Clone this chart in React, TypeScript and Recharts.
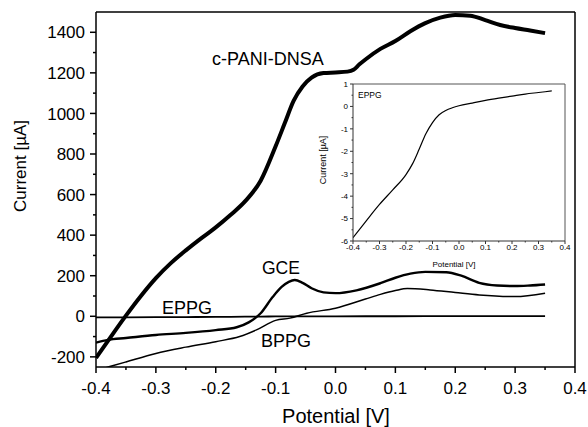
import React from 'react';
import { LineChart, Line, XAxis, YAxis, ReferenceLine } from 'recharts';

const FONT = '"Liberation Sans", Arial, Helvetica, sans-serif';

// ---- main chart series (Potential [V] vs Current [µA]) ----
const cpaniPotential = [-0.4, -0.375, -0.35, -0.325, -0.3, -0.275, -0.25, -0.225, -0.2, -0.175, -0.15, -0.125, -0.1, -0.085, -0.07, -0.055, -0.04, -0.02, 0, 0.02, 0.03, 0.04, 0.05, 0.075, 0.1, 0.125, 0.15, 0.175, 0.2, 0.225, 0.25, 0.275, 0.3, 0.325, 0.35];
const cpaniCurrent = [-205, -100, 3, 100, 188, 262, 325, 383, 438, 500, 570, 668, 838, 950, 1062, 1133, 1176, 1199, 1202, 1206, 1215, 1242, 1266, 1318, 1357, 1405, 1445, 1472, 1485, 1482, 1460, 1436, 1421, 1409, 1396];

const gcePotential = [-0.4, -0.38, -0.35, -0.3, -0.25, -0.2, -0.165, -0.145, -0.125, -0.105, -0.09, -0.078, -0.068, -0.055, -0.04, -0.02, 0, 0.035, 0.075, 0.1, 0.125, 0.15, 0.185, 0.21, 0.24, 0.27, 0.3, 0.325, 0.35];
const gceCurrent = [-130, -116, -107, -92, -82, -68, -54, -30, 15, 95, 145, 170, 179, 165, 138, 118, 114, 128, 163, 190, 210, 219, 217, 200, 165, 152, 149, 152, 157];

const bppgPotential = [-0.4, -0.377, -0.35, -0.3, -0.25, -0.2, -0.16, -0.132, -0.1, -0.076, -0.048, 0, 0.05, 0.075, 0.1, 0.12, 0.158, 0.2, 0.24, 0.3, 0.35];
const bppgCurrent = [-268, -248, -225, -183, -152, -125, -100, -67, -20, -9, 15, 40, 85, 108, 127, 137, 130, 117, 105, 97, 114];

// EPPG (also shown magnified in the inset)
const eppgPotential = [-0.4, -0.35, -0.3, -0.25, -0.2, -0.175, -0.15, -0.125, -0.1, -0.075, -0.05, -0.025, 0, 0.05, 0.1, 0.15, 0.2, 0.25, 0.3, 0.35];
const eppgCurrent = [-5.85, -5.1, -4.37, -3.72, -3.04, -2.55, -1.9, -1.22, -0.72, -0.37, -0.18, -0.06, 0.03, 0.15, 0.27, 0.37, 0.46, 0.55, 0.62, 0.69];

// ---- ticks ----
const mainXTicks = [-0.4, -0.35, -0.3, -0.25, -0.2, -0.15, -0.1, -0.05, 0, 0.05, 0.1, 0.15, 0.2, 0.25, 0.3, 0.35, 0.4];
const mainYTicks = [-200, -100, 0, 100, 200, 300, 400, 500, 600, 700, 800, 900, 1000, 1100, 1200, 1300, 1400];
const insetXTicks = [-0.4, -0.35, -0.3, -0.25, -0.2, -0.15, -0.1, -0.05, 0, 0.05, 0.1, 0.15, 0.2, 0.25, 0.3, 0.35, 0.4];
const insetYTicks = [-6, -5.5, -5, -4.5, -4, -3.5, -3, -2.5, -2, -1.5, -1, -0.5, 0, 0.5, 1];

const toPoints = (xs: number[], ys: number[]) => xs.map((x, i) => ({ x, y: ys[i] }));

const cpaniData = toPoints(cpaniPotential, cpaniCurrent);
const gceData = toPoints(gcePotential, gceCurrent);
const bppgData = toPoints(bppgPotential, bppgCurrent);
const eppgData = toPoints(eppgPotential, eppgCurrent);

const isTenth = (v: number) => Math.abs(Math.round(v * 100)) % 10 === 0;
const isInt = (v: number) => Math.abs(v - Math.round(v)) < 1e-9;

type TickOpts = {
  major: (v: number) => boolean;
  fmt: (v: number) => string;
  majorLen: number;
  minorLen: number;
  gap: number;
  fontSize: number;
  color: string;
  width: number;
};

const makeXTick = (o: TickOpts) => (props: any) => {
  const { x, y, payload } = props;
  const v = payload.value as number;
  const maj = o.major(v);
  return (
    <g>
      <line x1={x} y1={y} x2={x} y2={y + (maj ? o.majorLen : o.minorLen)} stroke={o.color} strokeWidth={o.width} />
      {maj && (
        <text x={x} y={y + o.gap} textAnchor="middle" fontSize={o.fontSize} fontFamily={FONT} fill="#000">
          {o.fmt(v)}
        </text>
      )}
    </g>
  );
};

const makeYTick = (o: TickOpts) => (props: any) => {
  const { x, y, payload } = props;
  const v = payload.value as number;
  const maj = o.major(v);
  return (
    <g>
      <line x1={x} y1={y} x2={x - (maj ? o.majorLen : o.minorLen)} y2={y} stroke={o.color} strokeWidth={o.width} />
      {maj && (
        <text x={x - o.gap} y={y} dy="0.36em" textAnchor="end" fontSize={o.fontSize} fontFamily={FONT} fill="#000">
          {o.fmt(v)}
        </text>
      )}
    </g>
  );
};

const MainXTick = makeXTick({ major: isTenth, fmt: (v) => v.toFixed(1), majorLen: 6, minorLen: 3, gap: 27, fontSize: 17, color: '#000', width: 1.5 });
const MainYTick = makeYTick({ major: (v) => Math.round(v) % 200 === 0, fmt: (v) => String(v), majorLen: 6, minorLen: 3, gap: 11, fontSize: 17, color: '#000', width: 1.5 });
const InsetXTick = makeXTick({ major: isTenth, fmt: (v) => v.toFixed(1), majorLen: 3, minorLen: 1.5, gap: 9, fontSize: 8, color: '#333', width: 1 });
const InsetYTick = makeYTick({ major: isInt, fmt: (v) => String(Math.round(v)), majorLen: 3, minorLen: 1.5, gap: 5, fontSize: 8, color: '#333', width: 1 });

export default function App() {
  return (
    <div style={{ position: 'absolute', left: 0, top: 0, width: 588, height: 427, background: '#fff', fontFamily: FONT }}>
      <div style={{ position: 'absolute', left: 0, top: 0 }}>
        <LineChart width={588} height={427} margin={{ top: 12, right: 13, bottom: 0, left: 0 }}>
          <XAxis
            dataKey="x"
            type="number"
            domain={[-0.4, 0.4]}
            allowDataOverflow
            ticks={mainXTicks}
            interval={0}
            height={60}
            tickSize={0}
            tickMargin={0}
            tickLine={false}
            axisLine={{ stroke: '#000', strokeWidth: 1.5 }}
            tick={MainXTick}
          />
          <YAxis
            dataKey="y"
            type="number"
            domain={[-250, 1500]}
            allowDataOverflow
            ticks={mainYTicks}
            interval={0}
            width={96}
            tickSize={0}
            tickMargin={0}
            tickLine={false}
            axisLine={{ stroke: '#000', strokeWidth: 1.5 }}
            tick={MainYTick}
          />
          <ReferenceLine y={1500} stroke="#000" strokeWidth={1.5} />
          <ReferenceLine x={0.4} stroke="#000" strokeWidth={1.5} />
          <Line data={eppgData} dataKey="y" type="monotone" stroke="#000" strokeWidth={1.8} dot={false} isAnimationActive={false} />
          <Line data={bppgData} dataKey="y" type="monotone" stroke="#000" strokeWidth={1.5} dot={false} isAnimationActive={false} />
          <Line data={gceData} dataKey="y" type="monotone" stroke="#000" strokeWidth={2.4} dot={false} isAnimationActive={false} />
          <Line data={cpaniData} dataKey="y" type="monotone" stroke="#000" strokeWidth={4} strokeLinejoin="round" dot={false} isAnimationActive={false} />
        </LineChart>
      </div>

      <div style={{ position: 'absolute', left: 353, top: 84, width: 212, height: 157, background: '#fff' }} />

      <div style={{ position: 'absolute', left: 300, top: 75 }}>
        <LineChart width={280} height={200} margin={{ top: 9, right: 15, bottom: 0, left: 0 }}>
          <XAxis
            dataKey="x"
            type="number"
            domain={[-0.4, 0.4]}
            allowDataOverflow
            ticks={insetXTicks}
            interval={0}
            height={34}
            tickSize={0}
            tickMargin={0}
            tickLine={false}
            axisLine={{ stroke: '#333', strokeWidth: 1 }}
            tick={InsetXTick}
          />
          <YAxis
            dataKey="y"
            type="number"
            domain={[-6, 1]}
            allowDataOverflow
            ticks={insetYTicks}
            interval={0}
            width={53}
            tickSize={0}
            tickMargin={0}
            tickLine={false}
            axisLine={{ stroke: '#333', strokeWidth: 1 }}
            tick={InsetYTick}
          />
          <ReferenceLine y={1} stroke="#555" strokeWidth={1} />
          <ReferenceLine x={0.4} stroke="#555" strokeWidth={1} />
          <Line data={eppgData} dataKey="y" type="monotone" stroke="#000" strokeWidth={1.2} dot={false} isAnimationActive={false} />
        </LineChart>
      </div>

      <svg width={588} height={427} style={{ position: 'absolute', left: 0, top: 0, pointerEvents: 'none' }}>
        <g fontFamily={FONT} fill="#000">
          <text x={212} y={65} fontSize={18}>c-PANI-DNSA</text>
          <text x={262} y={274} fontSize={17.5}>GCE</text>
          <text x={162} y={314} fontSize={18}>EPPG</text>
          <text x={261} y={347} fontSize={18}>BPPG</text>
          <text x={336} y={423} fontSize={20} textAnchor="middle">Potential [V]</text>
          <text x={20} y={166} fontSize={17} textAnchor="middle" dy="0.36em" transform="rotate(-90 20 166)">Current [µA]</text>
          <text x={358} y={98} fontSize={8.5}>EPPG</text>
          <text x={454} y={267} fontSize={8} textAnchor="middle">Potential [V]</text>
          <text x={323} y={160} fontSize={9} textAnchor="middle" dy="0.36em" transform="rotate(-90 323 160)">Current [µA]</text>
        </g>
      </svg>
    </div>
  );
}
